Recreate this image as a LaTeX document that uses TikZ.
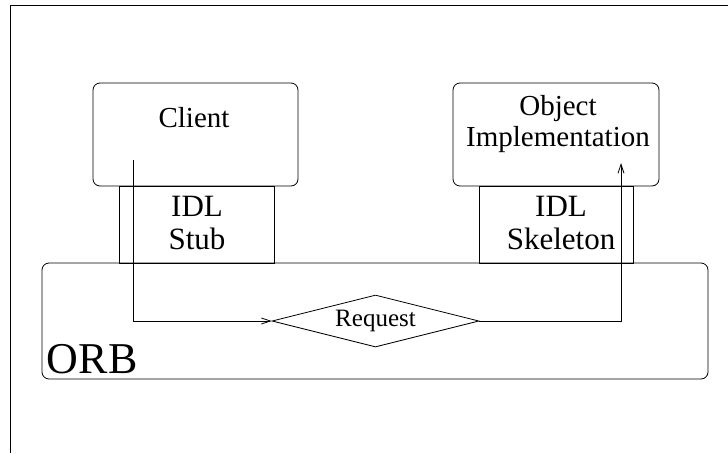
\documentclass[tikz,border=0pt]{standalone}
\usepackage{fontspec}
\setmainfont{Liberation Serif}
\usetikzlibrary{shapes.geometric,arrows.meta}

\begin{document}
\begin{tikzpicture}[x=1pt,y=-1pt,
  line width=0.8pt,
  panel/.style={draw, rounded corners=7pt, inner sep=0pt, outer sep=0pt},
  stubbox/.style={draw, rectangle, inner sep=0pt, outer sep=0pt},
  label/.style={inner sep=0pt, align=center},
  bigtext/.style={label, font=\fontsize{29}{31}\selectfont},
  idltext/.style={label, font=\fontsize{31}{32.5}\selectfont},
  flow/.style={-{Straight Barb[length=9pt,width=6pt]}},
]
\useasboundingbox (0,0) rectangle (728,453);

% page frame
\draw (10,453) -- (10,5) -- (728,5);

% client side
\node[panel, minimum width=205, minimum height=103] (client) at (195.5,134.5) {};
\node[bigtext] (clienttext) at (194,118) {Client};
\node[stubbox, minimum width=155, minimum height=77] (stub) at (196.5,224.5) {};
\node[idltext] (stubtext) at (197,223) {IDL\\Stub};

% server side
\node[panel, minimum width=206, minimum height=103] (impl) at (556,134.5) {};
\node[bigtext] (impltext) at (558,124) {Object\\Implementation};
\node[stubbox, minimum width=154, minimum height=77] (skel) at (556,224.5) {};
\node[idltext] (skeltext) at (561,223) {IDL\\Skeleton};

% broker
\node[panel, minimum width=666, minimum height=116] (orb) at (375,321) {};
\node[inner sep=0pt, anchor=base west, font=\fontsize{44}{48}\selectfont] (orbtext) at (46.5,373) {ORB};

% request
\node[draw, diamond, inner sep=0pt, shape aspect=4, minimum width=207, minimum height=52,
      font=\fontsize{25}{27}\selectfont] (req) at (375.5,321) {Request};

\coordinate (cstart) at (133,160);
\coordinate (iend) at (621,163);
\draw[flow] (cstart) |- (req.west);
\draw[flow] (req.east) -| (iend);
\end{tikzpicture}
\end{document}
